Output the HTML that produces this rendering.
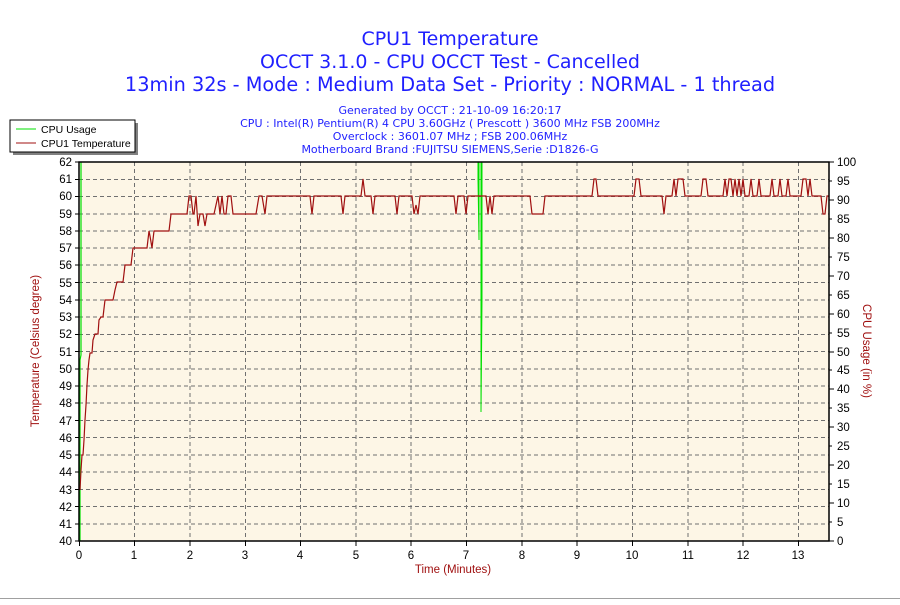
<!DOCTYPE html>
<html><head><meta charset="utf-8"><style>
body{margin:0;background:#fff;}
svg text{font-family:"Liberation Sans",sans-serif;}
svg .t{font-family:"DejaVu Sans","Liberation Sans",sans-serif;}
</style></head><body>
<svg width="900" height="600" xmlns="http://www.w3.org/2000/svg">
<rect width="900" height="600" fill="#fff"/>
<line x1="0" y1="598.5" x2="900" y2="598.5" stroke="#a0a0a0"/>
<g fill="#1f1fff" text-anchor="middle">
<text class="t" x="450" y="45" font-size="19">CPU1 Temperature</text>
<text class="t" x="450" y="68" font-size="19">OCCT 3.1.0 - CPU OCCT Test - Cancelled</text>
<text class="t" x="450" y="91" font-size="19.3">13min 32s - Mode : Medium Data Set - Priority : NORMAL - 1 thread</text>
<text class="t" x="450" y="114" font-size="11">Generated by OCCT : 21-10-09 16:20:17</text>
<text class="t" x="450" y="127" font-size="11">CPU : Intel(R) Pentium(R) 4 CPU 3.60GHz ( Prescott ) 3600 MHz FSB 200MHz</text>
<text class="t" x="450" y="140" font-size="11">Overclock : 3601.07 MHz ; FSB 200.06MHz</text>
<text class="t" x="450" y="153" font-size="11">Motherboard Brand :FUJITSU SIEMENS,Serie :D1826-G</text>
</g>
<rect x="13" y="123" width="125" height="32" fill="#808080"/>
<rect x="10" y="120" width="125" height="32" fill="#fff" stroke="#000"/>
<line x1="16" y1="129" x2="36" y2="129" stroke="#00e000"/>
<line x1="16" y1="143" x2="36" y2="143" stroke="#a01010"/>
<text x="41" y="133" font-size="10.5">CPU Usage</text>
<text x="41" y="147" font-size="10.5">CPU1 Temperature</text>
<rect x="79" y="162" width="750" height="379" fill="#fdf6e6"/>
<g stroke="#707070" stroke-dasharray="4,3" stroke-width="1">
<path d="M134.5 162V541M190 162V541M245.5 162V541M300.5 162V541M356 162V541M411 162V541M466.5 162V541M522 162V541M577 162V541M632.5 162V541M688 162V541M743 162V541M798.5 162V541"/>
<path d="M79 179.5H829M79 196.5H829M79 214H829M79 231H829M79 248H829M79 265H829M79 282.5H829M79 300H829M79 317H829M79 334.5H829M79 351.5H829M79 369H829M79 386H829M79 403H829M79 420.5H829M79 437.5H829M79 455H829M79 472H829M79 489.5H829M79 506.5H829M79 524H829"/>
</g>
<polyline fill="none" stroke="#00e000" stroke-width="1.2" points="80,541 80,360 81,355 81,162"/>
<polyline fill="none" stroke="#00e000" stroke-width="1" points="478,162 478,180 479,240 479,162"/>
<polyline fill="none" stroke="#00e000" stroke-width="1" points="481,162 481,412 482,300 482,162"/>
<polyline fill="none" stroke="#a01010" stroke-width="1.2" points="80,490 81,470 82,455 83,455 84,440 85,420 86,405 87,385 88,370 89,360 90,353 92,353 93,340 95,334 96,334 98,334 99,320 101,317 103,317 105,300 107,300 110,300 113,300 115,290 117,282 123,282 125,265 131,265 133,248 135,248 147,248 149,231 150,236 152,248 154,231 169,231 171,214 174,214 187,214 189,196 191,196 193,214 194,214 196,196 198,226 200,214 203,214 205,226 207,214 212,214 214,214 216,205 218,196 220,214 222,196 224,214 226,214 228,196 231,196 233,214 238,214 256,214 259,196 262,196 265,214 267,196 269,196 310,196 312,214 314,196 341,196 343,214 345,196 361,196 363,179 365,196 371,196 373,214 375,196 395,196 397,214 399,196 412,196 414,214 416,205 418,214 420,196 454,196 456,214 458,196 464,196 466,214 468,196 486,196 488,214 490,196 492,214 494,196 530,196 532,214 543,214 545,196 592,196 594,179 596,179 598,196 634,196 636,179 639,179 641,196 662,196 664,214 666,196 672,196 674,179 676,196 678,179 680,179 683,179 685,196 701,196 703,179 706,179 708,196 723,196 725,179 727,196 729,179 731,179 733,196 735,179 737,196 739,179 741,196 743,179 745,196 749,196 751,179 753,196 757,196 759,179 761,196 770,196 772,179 774,196 778,196 780,179 782,196 786,196 788,179 790,196 801,196 803,179 806,179 808,196 810,179 812,196 821,196 823,214 825,214 827,196 829,196"/>
<rect x="79" y="162" width="750" height="379" fill="none" stroke="#000" stroke-width="1.5"/>
<g stroke="#000">
<path d="M75 162H79M75 179.5H79M75 196.5H79M75 214H79M75 231H79M75 248H79M75 265H79M75 282.5H79M75 300H79M75 317H79M75 334.5H79M75 351.5H79M75 369H79M75 386H79M75 403H79M75 420.5H79M75 437.5H79M75 455H79M75 472H79M75 489.5H79M75 506.5H79M75 524H79M75 541H79"/>
<path d="M829 162H834M829 181H832M829 200H834M829 219H832M829 238H834M829 257H832M829 276H834M829 295H832M829 314H834M829 333H832M829 352H834M829 370H832M829 389H834M829 408H832M829 427H834M829 446H832M829 465H834M829 484H832M829 503H834M829 522H832M829 541H834"/>
<path d="M79.5 541V546M134.5 541V546M190 541V546M245.5 541V546M300.5 541V546M356 541V546M411 541V546M466.5 541V546M522 541V546M577 541V546M632.5 541V546M688 541V546M743 541V546M798.5 541V546"/>
</g>
<g font-size="11.5" text-anchor="end" fill="#000">
<text x="72" y="166">62</text><text x="72" y="183">61</text><text x="72" y="200">60</text><text x="72" y="218">59</text><text x="72" y="235">58</text><text x="72" y="252">57</text><text x="72" y="269">56</text><text x="72" y="287">55</text><text x="72" y="304">54</text><text x="72" y="321">53</text><text x="72" y="338">52</text><text x="72" y="356">51</text><text x="72" y="373">50</text><text x="72" y="390">49</text><text x="72" y="407">48</text><text x="72" y="425">47</text><text x="72" y="442">46</text><text x="72" y="459">45</text><text x="72" y="476">44</text><text x="72" y="494">43</text><text x="72" y="511">42</text><text x="72" y="528">41</text><text x="72" y="545">40</text>
</g>
<g font-size="11.5" text-anchor="start" fill="#000">
<text x="837" y="166">100</text><text x="837" y="185">95</text><text x="837" y="204">90</text><text x="837" y="223">85</text><text x="837" y="242">80</text><text x="837" y="261">75</text><text x="837" y="280">70</text><text x="837" y="299">65</text><text x="837" y="318">60</text><text x="837" y="337">55</text><text x="837" y="356">50</text><text x="837" y="374">45</text><text x="837" y="393">40</text><text x="837" y="412">35</text><text x="837" y="431">30</text><text x="837" y="450">25</text><text x="837" y="469">20</text><text x="837" y="488">15</text><text x="837" y="507">10</text><text x="837" y="526">5</text><text x="837" y="545">0</text>
</g>
<g font-size="11.5" text-anchor="middle" fill="#000">
<text x="79" y="559">0</text><text x="134" y="559">1</text><text x="190" y="559">2</text><text x="245" y="559">3</text><text x="300" y="559">4</text><text x="356" y="559">5</text><text x="411" y="559">6</text><text x="466" y="559">7</text><text x="522" y="559">8</text><text x="577" y="559">9</text><text x="632" y="559">10</text><text x="688" y="559">11</text><text x="743" y="559">12</text><text x="798" y="559">13</text>
</g>
<text x="453" y="573" font-size="11.5" text-anchor="middle" fill="#a01010">Time (Minutes)</text>
<text transform="translate(39,351) rotate(-90)" font-size="11.5" text-anchor="middle" fill="#a01010">Temperature (Celsius degree)</text>
<text transform="translate(863,351) rotate(90)" font-size="11.5" text-anchor="middle" fill="#a01010">CPU Usage (in %)</text>
</svg>
</body></html>
